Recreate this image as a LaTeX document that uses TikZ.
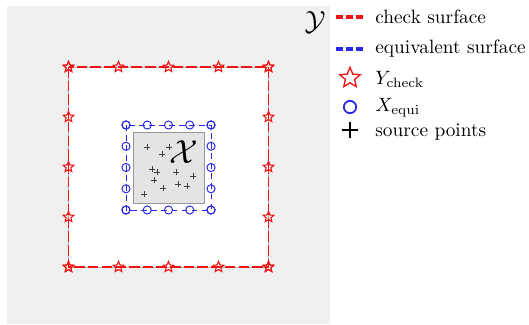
\documentclass[tikz,border=0pt]{standalone}
\usetikzlibrary{shapes.geometric,shapes.misc}
\definecolor{bggray}{RGB}{240,240,240}
\definecolor{innergray}{RGB}{228,228,228}
\definecolor{innerborder}{RGB}{150,150,150}
\definecolor{chkred}{RGB}{240,20,20}
\definecolor{eqblue}{RGB}{40,40,230}
\tikzset{
  chkline/.style={draw=chkred, line width=1pt, dash pattern=on 5.5pt off 1.6pt},
  eqline/.style={draw=eqblue, line width=0.5pt, dash pattern=on 3pt off 2.2pt},
  chkstar/.style={draw=chkred, star, star points=5, star point ratio=2.2, minimum size=5.8pt, inner sep=0pt, line width=0.55pt},
  eqcirc/.style={draw=eqblue, circle, minimum size=4.2pt, inner sep=0pt, line width=0.5pt},
  srcpt/.style={draw=black!75, cross out, rotate=45, minimum size=2.2pt, inner sep=0pt, line width=0.35pt},
  legtext/.style={anchor=west, inner sep=0pt},
}
\begin{document}
\begin{tikzpicture}[x=0.518pt,y=-0.518pt]
\useasboundingbox (0,0) rectangle (529,324);
% background
\fill[bggray] (7,6) rectangle (330,324);
% check surface
\coordinate (r1) at (68.5,67);
\coordinate (r2) at (268.5,267);
\fill[white] (r1) rectangle (r2);
\draw[black!30, line width=0.3pt] (r1) rectangle (r2);
\draw[chkline] (r1) rectangle (r2);
% inner domain
\coordinate (g1) at (133,132);
\coordinate (g2) at (204,203);
\draw[innerborder, fill=innergray, line width=0.5pt] (g1) rectangle (g2);
% equivalent surface
\coordinate (b1) at (126,125);
\coordinate (b2) at (211,210);
\draw[eqline] (b1) rectangle (b2);
% stars
\foreach \i in {0,...,4}{
  \pgfmathsetmacro{\p}{68.5+50*\i}
  \pgfmathsetmacro{\q}{67+50*\i}
  \node[chkstar] (st\i) at (\p,67) {};
  \node[chkstar] (sb\i) at (\p,267) {};
  \node[chkstar] (sl\i) at (68.5,\q) {};
  \node[chkstar] (sr\i) at (268.5,\q) {};
}
% circles
\foreach \i in {0,...,4}{
  \pgfmathsetmacro{\p}{126+21.25*\i}
  \pgfmathsetmacro{\q}{125+21.25*\i}
  \node[eqcirc] (ct\i) at (\p,125) {};
  \node[eqcirc] (cb\i) at (\p,210) {};
  \node[eqcirc] (cl\i) at (126,\q) {};
  \node[eqcirc] (cr\i) at (211,\q) {};
}
% source points
\node[srcpt] (p1) at (147,147) {};
\node[srcpt] (p2) at (169,147) {};
\node[srcpt] (p3) at (162,154) {};
\node[srcpt] (p4) at (152,169) {};
\node[srcpt] (p5) at (157,172) {};
\node[srcpt] (p6) at (176,172) {};
\node[srcpt] (p7) at (193,176) {};
\node[srcpt] (p8) at (154,180) {};
\node[srcpt] (p9) at (178,184) {};
\node[srcpt] (p10) at (187,186) {};
\node[srcpt] (p11) at (163,188) {};
\node[srcpt] (p12) at (144,194) {};
% labels
\node[inner sep=0pt] (xlab) at (184,152) {\fontsize{16}{18}\selectfont$\mathcal{X}$};
\node[inner sep=0pt] (ylab) at (315,22) {\fontsize{15}{18}\selectfont$\mathcal{Y}$};
% legend
\coordinate (l1a) at (336,17);
\coordinate (l1b) at (363,17);
\coordinate (l2a) at (336,49);
\coordinate (l2b) at (363,49);
\draw[draw=chkred, line width=1.6pt, dash pattern=on 3.6pt off 1.7pt] (l1a) -- (l1b);
\draw[draw=eqblue, line width=1.6pt, dash pattern=on 3.6pt off 1.7pt] (l2a) -- (l2b);
\node[chkstar, minimum size=11pt, line width=0.7pt] (lstar) at (350,78) {};
\node[eqcirc, minimum size=6.4pt, line width=0.9pt] (lcirc) at (350,107) {};
\node[draw=black, cross out, rotate=45, minimum size=5.1pt, inner sep=0pt, line width=0.8pt] (lplus) at (350,130) {};
\node[legtext] (t1) at (375,17) {check surface};
\node[legtext] (t2) at (375,49) {equivalent surface};
\node[legtext] (t3) at (375,79) {$Y_{\mathrm{check}}$};
\node[legtext] (t4) at (375,108) {$X_{\mathrm{equi}}$};
\node[legtext] (t5) at (375,132) {source points};
\end{tikzpicture}
\end{document}
